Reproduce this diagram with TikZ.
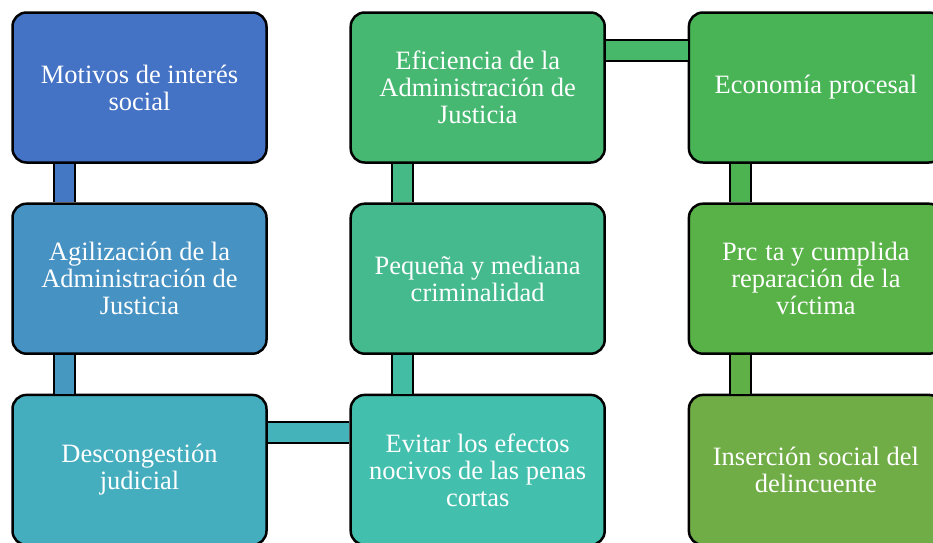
\documentclass[tikz,border=0pt]{standalone}
\usepackage{fontspec}
\setmainfont{Liberation Serif}
\usetikzlibrary{positioning, calc}
\definecolor{tone1}{HTML}{4472C4}
\definecolor{tone2}{HTML}{4692C2}
\definecolor{tone3}{HTML}{44AEBF}
\definecolor{tone4}{HTML}{43BFAD}
\definecolor{tone5}{HTML}{44BA8E}
\definecolor{tone6}{HTML}{47B872}
\definecolor{tone7}{HTML}{48B455}
\definecolor{tone8}{HTML}{58B247}
\definecolor{tone9}{HTML}{70AD47}
\tikzset{
  stage/.style = {shape=rectangle, rounded corners=14pt, draw=black,
                  line width=2.5pt, minimum width=254pt, minimum height=150pt,
                  align=center, text=white, font=\fontsize{26.5}{27}\selectfont},
  link/.style  = {draw=black, line width=2.2pt, double=#1, double distance=19pt}
}
\begin{document}
\begin{tikzpicture}[x=1pt, y=1pt, node distance = 38.7pt and 81.7pt]
  \useasboundingbox (0,0) rectangle (933,-542);
  % first column, top to bottom
  \node [stage, fill=tone1] (motivos) at (139.5,-87.5) {Motivos de interés\\social};
  \node [stage, fill=tone2, below=of motivos] (agilizacion) {Agilización de la\\Administración de\\Justicia};
  \node [stage, fill=tone3, below=of agilizacion] (descongestion) {Descongestión\\judicial};
  % second column, bottom to top
  \node [stage, fill=tone4, right=of descongestion] (evitar) {Evitar los efectos\\nocivos de las penas\\cortas};
  \node [stage, fill=tone5, above=of evitar] (pequena) {Pequeña y mediana\\criminalidad};
  \node [stage, fill=tone6, above=of pequena] (eficiencia) {Eficiencia de la\\Administración de\\Justicia};
  % third column, top to bottom
  \node [stage, fill=tone7, right=of eficiencia] (economia) {Economía procesal};
  \node [stage, fill=tone8, below=of economia] (reparacion) {Prc\hspace{0.3em}ta y cumplida\\reparación de la\\víctima};
  \node [stage, fill=tone9, below=of reparacion] (insercion) {Inserción social del\\delincuente};
  % bars between the boxes
  \draw [link=tone1!80!tone2] ([xshift=53pt]motivos.south west) -- ([xshift=53pt]agilizacion.north west);
  \draw [link=tone2!80!tone3] ([xshift=53pt]agilizacion.south west) -- ([xshift=53pt]descongestion.north west);
  \draw [link=tone3!70!tone4] ([yshift=-39pt]descongestion.north east) -- ([yshift=-39pt]evitar.north west);
  \draw [link=tone4!70!tone5] ([xshift=53pt]evitar.north west) -- ([xshift=53pt]pequena.south west);
  \draw [link=tone5!70!tone6] ([xshift=53pt]pequena.north west) -- ([xshift=53pt]eficiencia.south west);
  \draw [link=tone6!70!tone7] ([yshift=-39pt]eficiencia.north east) -- ([yshift=-39pt]economia.north west);
  \draw [link=tone7!70!tone8] ([xshift=53pt]economia.south west) -- ([xshift=53pt]reparacion.north west);
  \draw [link=tone8!70!tone9] ([xshift=53pt]reparacion.south west) -- ([xshift=53pt]insercion.north west);
\end{tikzpicture}
\end{document}
